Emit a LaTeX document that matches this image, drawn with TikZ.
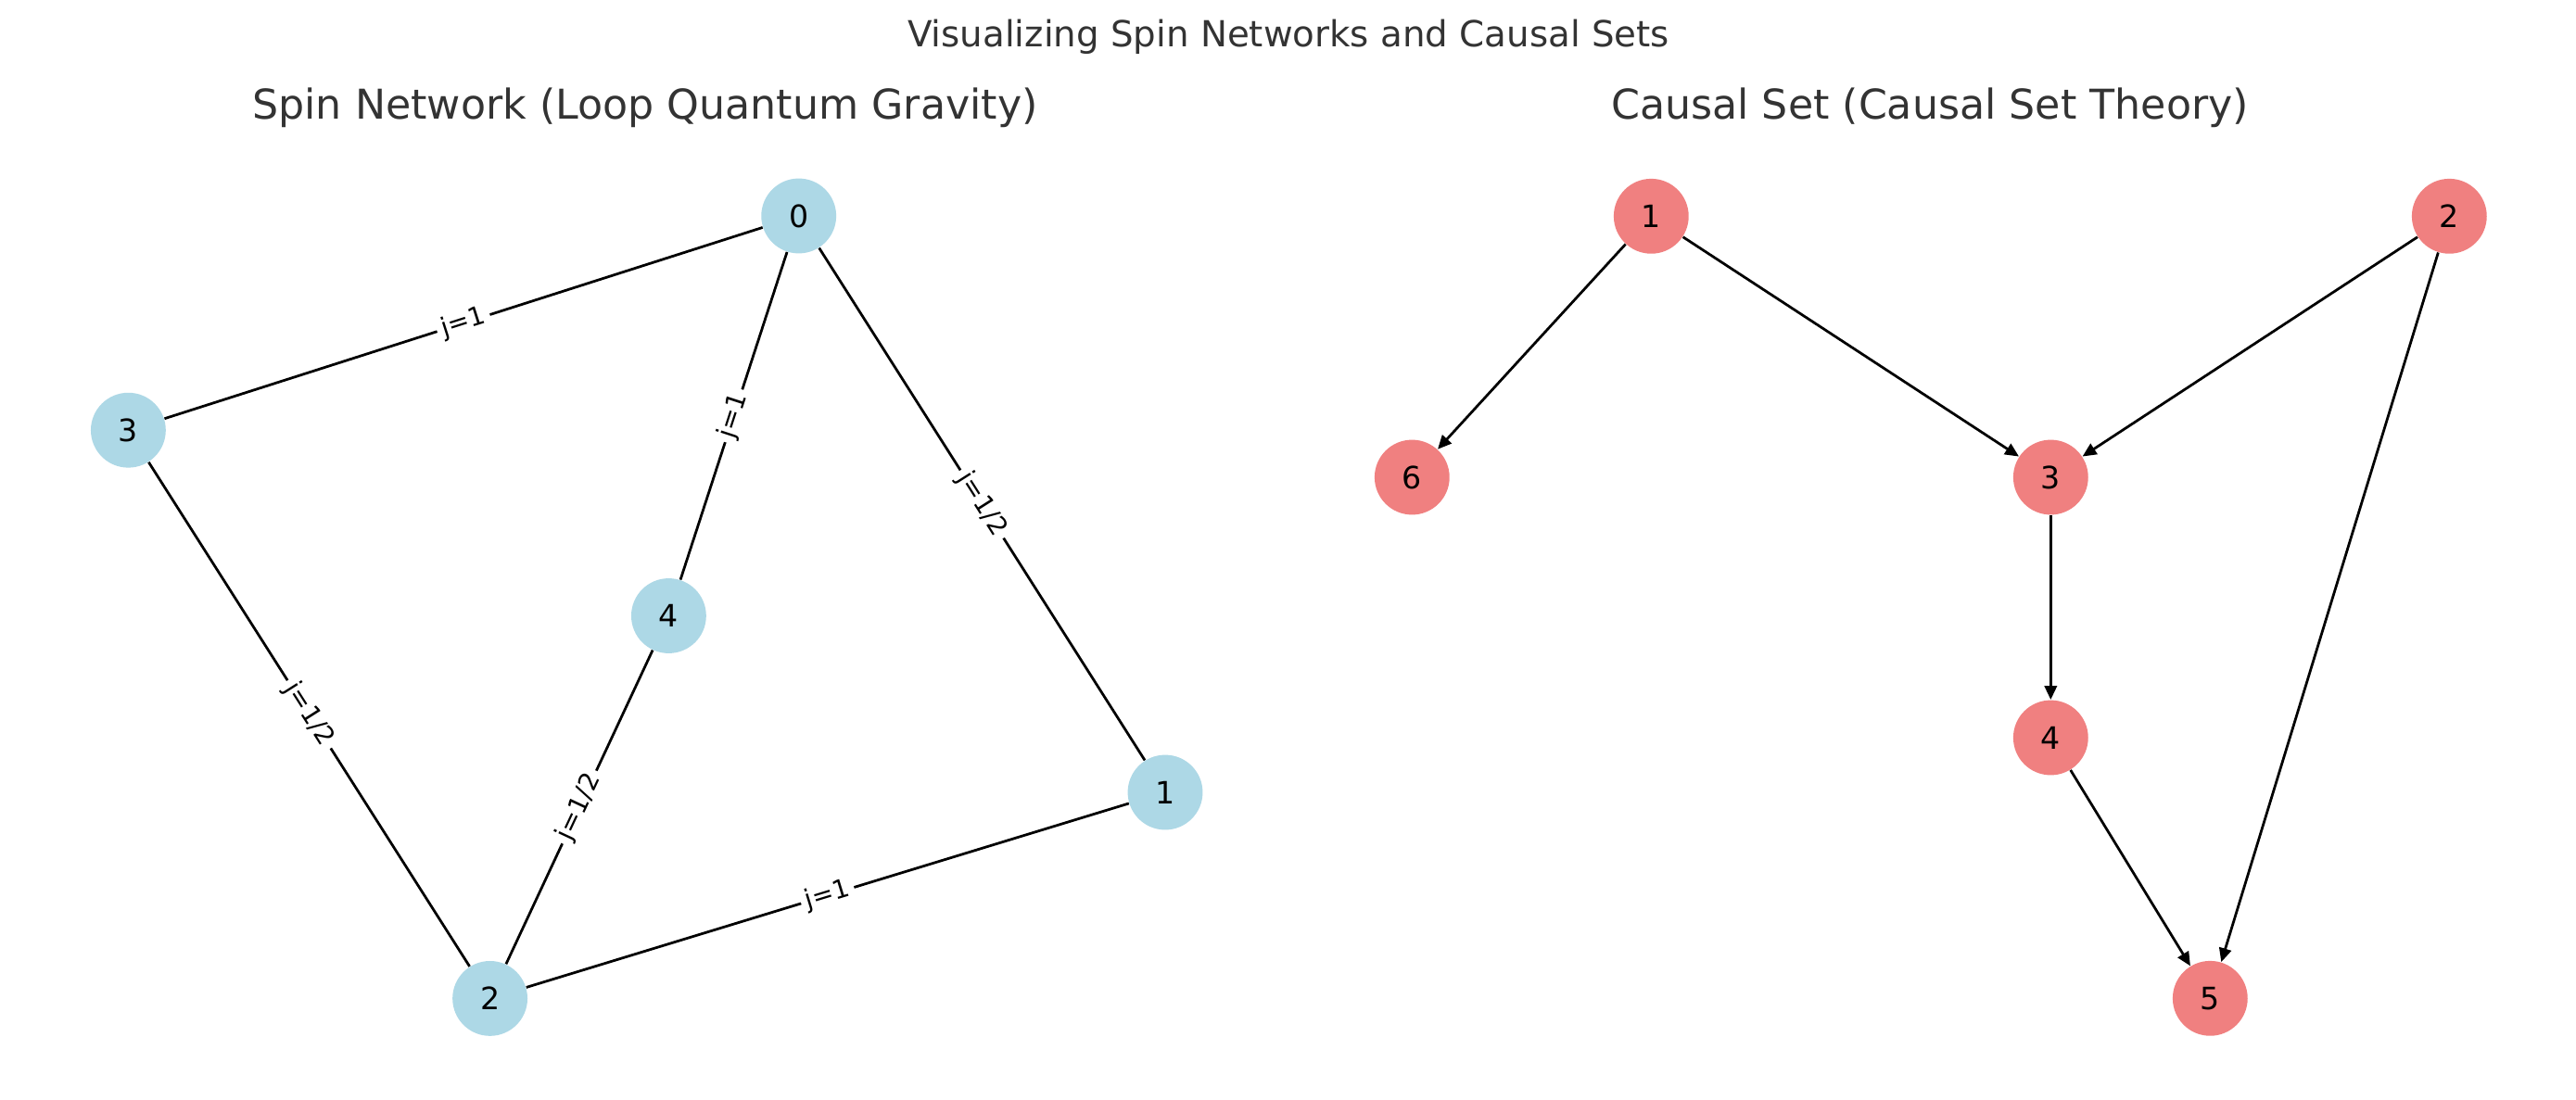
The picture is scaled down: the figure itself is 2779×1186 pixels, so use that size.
\documentclass[tikz,border=0pt]{standalone}
\usepackage{fontspec}
\setmainfont{DejaVu Sans}
\usetikzlibrary{arrows.meta}
\definecolor{lblue}{HTML}{ADD8E6}
\definecolor{lcoral}{HTML}{F08080}
\definecolor{ttl}{HTML}{333333}
\begin{document}
\begin{tikzpicture}[x=0.3612pt,y=-0.3612pt,
  basenode/.style={circle,minimum size=29.2pt,inner sep=0pt,text=black,font=\fontsize{12}{14}\selectfont},
  spinnode/.style={basenode,fill=lblue},
  causnode/.style={basenode,fill=lcoral},
  spinedge/.style={draw=black,line width=1pt},
  elabel/.style={sloped,midway,fill=white,inner sep=2pt,text=black,font=\fontsize{10}{12}\selectfont},
  causedge/.style={draw=black,line width=1pt,-{Triangle[length=5.4pt,width=4.8pt]}},
  maintitle/.style={anchor=base,text=ttl,inner sep=0pt,font=\fontsize{14}{16}\selectfont},
  subtitle/.style={anchor=base,text=ttl,inner sep=0pt,font=\fontsize{16}{19}\selectfont}]
\useasboundingbox[fill=white] (0,0) rectangle (2779,1186);

% titles
\node[maintitle] (mt) at (1390,50) {Visualizing Spin Networks and Causal Sets};
\node[subtitle] (st1) at (696,128) {Spin Network (Loop Quantum Gravity)};
\node[subtitle] (st2) at (2082,128) {Causal Set (Causal Set Theory)};

% spin network nodes
\node[spinnode] (s0) at (861.7,233) {0};
\node[spinnode] (s3) at (138.4,464.2) {3};
\node[spinnode] (s4) at (721.4,664.5) {4};
\node[spinnode] (s1) at (1257,855) {1};
\node[spinnode] (s2) at (528.6,1077.4) {2};

% spin network edges
\draw[spinedge] (s0) -- node[elabel] (l03) {j=1} (s3);
\draw[spinedge] (s0) -- node[elabel] (l04) {j=1} (s4);
\draw[spinedge] (s0) -- node[elabel] (l01) {j=1/2} (s1);
\draw[spinedge] (s3) -- node[elabel] (l32) {j=1/2} (s2);
\draw[spinedge] (s4) -- node[elabel] (l42) {j=1/2} (s2);
\draw[spinedge] (s2) -- node[elabel] (l21) {j=1} (s1);

% causal set nodes
\node[causnode] (c1) at (1781.3,233.3) {1};
\node[causnode] (c2) at (2642.3,233.3) {2};
\node[causnode] (c6) at (1523.3,515) {6};
\node[causnode] (c3) at (2212.3,515) {3};
\node[causnode] (c4) at (2212.3,796) {4};
\node[causnode] (c5) at (2384.3,1077.3) {5};

% causal set edges
\draw[causedge] (c1) -- (c6);
\draw[causedge] (c1) -- (c3);
\draw[causedge] (c2) -- (c3);
\draw[causedge] (c2) -- (c5);
\draw[causedge] (c3) -- (c4);
\draw[causedge] (c4) -- (c5);
\end{tikzpicture}
\end{document}
